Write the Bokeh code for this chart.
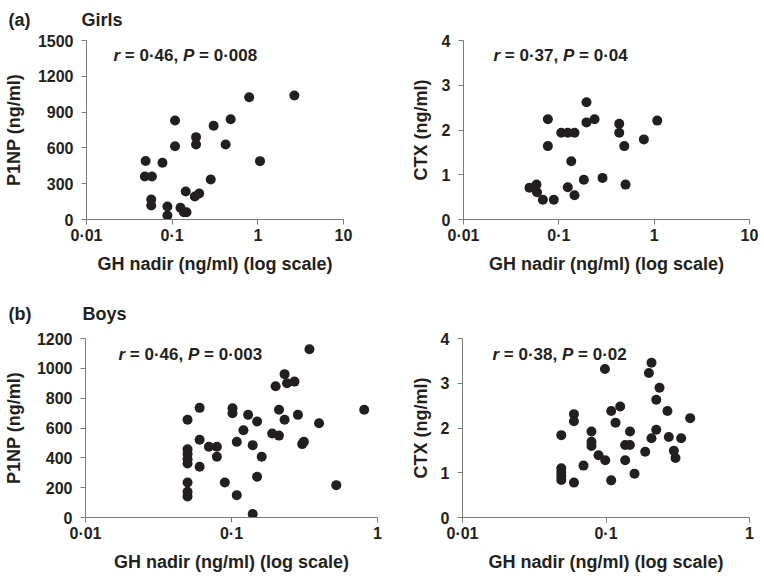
import math
from bokeh.plotting import figure
from bokeh.layouts import column, row
from bokeh.models import Range1d, FixedTicker, Label
from bokeh.embed import file_html
from bokeh.resources import INLINE

FONT = "Liberation Sans"
INK = "#231f20"
AXIS = "#7a7a7a"

# ---------------- data ----------------
# (a) Girls: GH nadir vs P1NP
girls_gh_p1np = [0.049, 0.048, 0.058, 0.057, 0.057, 0.077, 0.088, 0.088, 0.108, 0.108,
                 0.125, 0.137, 0.147, 0.144, 0.184, 0.207, 0.190, 0.190, 0.282, 0.305,
                 0.421, 0.482, 0.793, 1.06, 2.67]
girls_p1np = [490, 360, 360, 168, 117, 475, 109, 34, 830, 614,
              98, 61, 61, 235, 193, 218, 690, 628, 335, 785,
              628, 840, 1025, 489, 1039]

# (a) Girls: GH nadir vs CTX
girls_gh_ctx = [0.0492, 0.0583, 0.059, 0.068, 0.0886, 0.0767, 0.0767, 0.106, 0.124, 0.146,
                0.135, 0.124, 0.146, 0.183, 0.195, 0.195, 0.237, 0.287, 0.43, 0.43,
                0.486, 0.501, 0.78, 1.077]
girls_ctx = [0.71, 0.78, 0.61, 0.44, 0.44, 2.24, 1.64, 1.94, 1.94, 1.94,
             1.30, 0.72, 0.54, 0.89, 2.62, 2.17, 2.24, 0.93, 2.14, 1.94,
             1.64, 0.78, 1.79, 2.21]

# (b) Boys: GH nadir vs P1NP
boys_gh_p1np = [0.050, 0.0605, 0.0605, 0.050, 0.050, 0.050, 0.050, 0.050, 0.050, 0.050,
                0.0605, 0.070, 0.0794, 0.0794, 0.090, 0.1016, 0.1016, 0.1087, 0.1087, 0.1207,
                0.130, 0.1397, 0.1397, 0.1497, 0.1497, 0.161, 0.190, 0.2005, 0.2115, 0.2115,
                0.231, 0.231, 0.240, 0.270, 0.285, 0.305, 0.313, 0.398, 0.342, 0.522, 0.811]
boys_p1np = [655, 735, 521, 458, 425, 391, 362, 235, 172, 141,
             340, 474, 474, 407, 235, 733, 699, 507, 150, 585,
             688, 485, 23, 643, 273, 407, 563, 880, 722, 549,
             961, 655, 900, 911, 688, 492, 507, 632, 1128, 217, 722]

# (b) Boys: GH nadir vs CTX
boys_gh_ctx = [0.0488, 0.0488, 0.0488, 0.0488, 0.0488, 0.0598, 0.0598, 0.0598, 0.0697, 0.0792,
               0.0792, 0.0792, 0.0887, 0.0983, 0.0988, 0.1087, 0.1087, 0.1165, 0.1256, 0.147,
               0.136, 0.1467, 0.136, 0.158, 0.1876, 0.199, 0.2075, 0.2075, 0.224, 0.224,
               0.236, 0.268, 0.274, 0.297, 0.305, 0.334, 0.386]
boys_ctx = [1.84, 1.10, 1.01, 0.92, 0.84, 2.31, 2.15, 0.78, 1.16, 1.92,
            1.69, 1.60, 1.39, 3.32, 1.28, 2.38, 0.83, 2.12, 2.48, 1.92,
            1.62, 1.62, 1.28, 0.98, 1.47, 3.23, 3.46, 1.77, 2.63, 1.96,
            2.90, 2.38, 1.80, 1.49, 1.33, 1.77, 2.22]

x_ticks_girls = [0.01, 0.1, 1, 10]
x_ticks_boys = [0.01, 0.1, 1]
x_tick_labels = {0.01: "0·01", 0.1: "0·1", 1: "1", 10: "10"}
p1np_ticks_girls = [0, 300, 600, 900, 1200, 1500]
p1np_ticks_boys = [0, 200, 400, 600, 800, 1000, 1200]
ctx_ticks = [0, 1, 2, 3, 4]

stats = {
    "girls_p1np": ("0·46", "0·008"),
    "girls_ctx": ("0·37", "0·04"),
    "boys_p1np": ("0·46", "0·003"),
    "boys_ctx": ("0·38", "0·02"),
}
x_title = "GH nadir (ng/ml) (log scale)"
GAP = "\u2003\u2003\u00a0\u00a0\u00a0"

# ---------------- helpers ----------------
CW = {"0": .556, "1": .556, "2": .556, "3": .556, "4": .556, "5": .556, "6": .556,
      "7": .556, "8": .556, "9": .556, "=": .584, " ": .278, "·": .333, ",": .278,
      "P": .667, "r": .389}
STAT_FS = 17


def tw(s):
    return sum(CW.get(c, .556) for c in s) * STAT_FS


def lab(p, x, y, text, size="17px", style="bold", **kw):
    p.add_layout(Label(x=x, y=y, x_units="screen", y_units="screen", text=text,
                       text_font=FONT, text_font_size=size, text_font_style=style,
                       text_color=INK, text_baseline="middle", **kw))


def panel(xs, ys, x_max, x_ticks, y_max, y_ticks, ylabel, stat,
          width, height, bl, br, bt, bb, stat_x, stat_y, ylab_standoff,
          title=None, title_offset=0, title_standoff=10):
    p = figure(width=width, height=height, x_axis_type="log",
               x_range=Range1d(0.01, x_max), y_range=Range1d(0, y_max),
               output_backend="svg", toolbar_location=None,
               min_border_left=bl, min_border_right=br,
               min_border_top=bt, min_border_bottom=bb)
    p.outline_line_color = None
    p.xgrid.visible = False
    p.ygrid.visible = False
    p.background_fill_color = "white"
    p.border_fill_color = "white"

    if title is not None:
        p.title.text = title
        p.title.text_font = FONT
        p.title.text_font_size = "18px"
        p.title.text_font_style = "bold"
        p.title.text_color = INK
        p.title.align = "left"
        p.title.vertical_align = "top"
        p.title.offset = title_offset
        p.title.standoff = title_standoff

    p.xaxis.ticker = FixedTicker(ticks=x_ticks)
    p.xaxis.major_label_overrides = {k: v for k, v in x_tick_labels.items() if k in x_ticks}
    p.yaxis.ticker = FixedTicker(ticks=y_ticks)
    for ax in (p.xaxis, p.yaxis):
        ax.axis_line_color = AXIS
        ax.major_tick_line_color = AXIS
        ax.minor_tick_line_color = None
        ax.major_tick_in = 0
        ax.major_tick_out = 5
        ax.major_label_text_font = FONT
        ax.major_label_text_font_style = "bold"
        ax.major_label_text_font_size = "16px"
        ax.major_label_text_color = INK
        ax.axis_label_text_font = FONT
        ax.axis_label_text_font_style = "bold"
        ax.axis_label_text_font_size = "18px"
        ax.axis_label_text_color = INK
    p.xaxis.major_label_standoff = 2
    p.yaxis.major_label_standoff = 8
    p.xaxis.axis_label = x_title
    p.xaxis.axis_label_standoff = 7
    p.yaxis.axis_label = ylabel
    p.yaxis.axis_label_standoff = ylab_standoff

    p.scatter(xs, ys, size=10, fill_color=INK, line_color=None)

    # statistic annotation: r (italic) = ..., P (italic) = ...
    r_val, p_val = stat
    sp = CW[" "] * STAT_FS
    x = stat_x
    lab(p, x, stat_y, "r", style="bold italic")
    x += tw("r") + sp
    b = "= " + r_val + ","
    lab(p, x, stat_y, b)
    x += tw(b) + sp
    lab(p, x, stat_y, "P", style="bold italic")
    x += tw("P") + sp
    lab(p, x, stat_y, "= " + p_val)
    return p


pa = panel(girls_gh_p1np, girls_p1np, 10, x_ticks_girls, 1500, p1np_ticks_girls,
           "P1NP (ng/ml)", stats["girls_p1np"],
           388, 290, 85, 45, 40, 71, 27, 164, 11,
           title="(a)" + GAP + "Girls", title_offset=-78, title_standoff=17)

pb = panel(girls_gh_ctx, girls_ctx, 10, x_ticks_girls, 4, ctx_ticks,
           "CTX (ng/ml)", stats["girls_ctx"],
           375, 290, 75, 14, 40, 71, 30, 164, 8)

pc = panel(boys_gh_p1np, boys_p1np, 1, x_ticks_boys, 1200, p1np_ticks_boys,
           "P1NP (ng/ml)", stats["boys_p1np"],
           388, 286, 84, 11, 48, 59, 33, 163, 10,
           title="(b)" + GAP + "Boys", title_offset=-77, title_standoff=25)

pd = panel(boys_gh_ctx, boys_ctx, 1, x_ticks_boys, 4, ctx_ticks,
           "CTX (ng/ml)", stats["boys_ctx"],
           375, 286, 74, 14, 48, 59, 30, 163, 7)

layout = column(row(pa, pb), row(pc, pd))
open("out.html", "w").write(file_html(layout, INLINE))
